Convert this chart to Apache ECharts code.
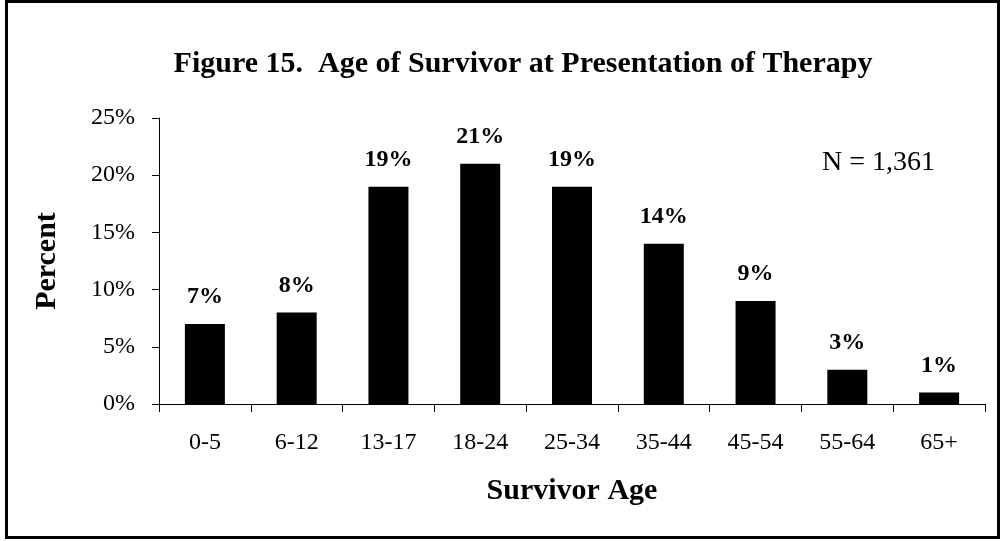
<!DOCTYPE html>
<html>
<head>
<meta charset="utf-8">
<script src="https://cdn.jsdelivr.net/npm/echarts@6/dist/echarts.min.js"></script>
<style>
  html, body { margin: 0; padding: 0; background: #fff; }
  #chart { width: 1003px; height: 541px; }
</style>
</head>
<body>
<div id="chart"></div>
<script>
const ageGroups = ['0-5', '6-12', '13-17', '18-24', '25-34', '35-44', '45-54', '55-64', '65+'];
const percentValues = [7, 8, 19, 21, 19, 14, 9, 3, 1];
const yTicks = { min: 0, max: 25, interval: 5 };
const titleText = 'Figure 15.  Age of Survivor at Presentation of Therapy';
const noteText = 'N = 1,361';

const serif = '"Liberation Serif", "Times New Roman", serif';
const chart = echarts.init(document.getElementById('chart'));

const option = {
  backgroundColor: '#fff',
  animation: false,
  title: {
    text: titleText,
    left: 518,
    top: 44,
    textAlign: 'center',
    textStyle: { fontFamily: serif, fontSize: 30, fontWeight: 'bold', color: '#000' }
  },
  grid: { left: 159, right: 18, top: 118, bottom: 137, containLabel: false },
  xAxis: {
    type: 'category',
    data: ageGroups,
    name: 'Survivor Age',
    nameLocation: 'middle',
    nameGap: 72,
    nameTextStyle: { fontFamily: serif, fontSize: 30, fontWeight: 'bold', color: '#000' },
    axisLine: { lineStyle: { color: '#000', width: 1 } },
    axisTick: { show: true, length: 8, lineStyle: { color: '#000' } },
    axisLabel: { margin: 27, fontFamily: serif, fontSize: 24, color: '#000' }
  },
  yAxis: {
    type: 'value',
    min: yTicks.min,
    max: yTicks.max,
    interval: yTicks.interval,
    name: 'Percent',
    nameLocation: 'middle',
    nameGap: 97,
    nameTextStyle: { fontFamily: serif, fontSize: 30, fontWeight: 'bold', color: '#000' },
    axisLine: { show: true, lineStyle: { color: '#000', width: 1 } },
    axisTick: { show: true, length: 7, lineStyle: { color: '#000' } },
    splitLine: { show: false },
    axisLabel: { margin: 24, formatter: '{value}%', fontFamily: serif, fontSize: 24, color: '#000' }
  },
  series: [
    {
      type: 'bar',
      data: percentValues,
      barWidth: 40,
      itemStyle: { color: '#000' },
      label: {
        show: true,
        position: 'top',
        distance: 15,
        formatter: '{c}%',
        fontFamily: serif,
        fontSize: 24,
        fontWeight: 'bold',
        color: '#000'
      }
    }
  ],
  graphic: [
    {
      type: 'rect',
      shape: { x: 6.5, y: 1.5, width: 992, height: 536 },
      style: { fill: 'none', stroke: '#000', lineWidth: 3 },
      silent: true
    },
    {
      type: 'text',
      x: 822,
      y: 163,
      style: {
        text: noteText,
        fontFamily: serif,
        fontSize: 28,
        fill: '#000',
        textVerticalAlign: 'middle'
      }
    }
  ]
};

chart.setOption(option);
</script>
</body>
</html>
